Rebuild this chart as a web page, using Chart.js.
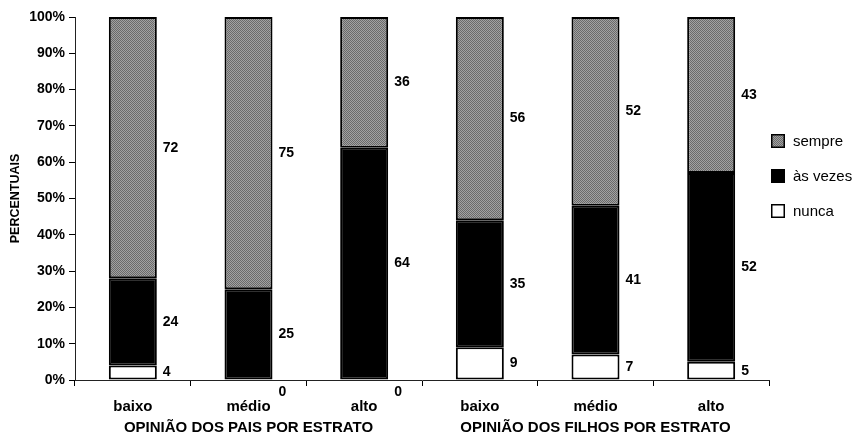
<!DOCTYPE html>
<html>
<head>
<meta charset="utf-8">
<script src="https://cdn.jsdelivr.net/npm/chart.js@4"></script>
<style>
  html, body { margin: 0; padding: 0; background: #fff; }
  #wrap { width: 856px; height: 437px; }
</style>
</head>
<body>
<div id="wrap"><canvas id="c" width="856" height="437"></canvas></div>
<script>
// Percentages per stratum: parents' opinion (first three) and children's opinion (last three)
const categories = ['baixo', 'médio', 'alto', 'baixo', 'médio', 'alto'];
const groups = ['OPINIÃO DOS PAIS POR ESTRATO', 'OPINIÃO DOS FILHOS POR ESTRATO'];
const nunca = [4, 0, 0, 9, 7, 5];
const asVezes = [24, 25, 64, 35, 41, 52];
const sempre = [72, 75, 36, 56, 52, 43];
const seriesNames = ['nunca', 'às vezes', 'sempre'];
const yTickValues = [0, 10, 20, 30, 40, 50, 60, 70, 80, 90, 100];

const FONT = '"Liberation Sans", Arial, sans-serif';

// Grey dithered fill for the "sempre" segments
function greyPattern() {
  const p = document.createElement('canvas');
  p.width = 2; p.height = 2;
  const g = p.getContext('2d');
  g.fillStyle = '#a2a2a2'; g.fillRect(0, 0, 2, 2);
  g.fillStyle = '#6a6a6a'; g.fillRect(0, 0, 1, 1); g.fillRect(1, 1, 1, 1);
  return g.createPattern(p, 'repeat');
}
const greyFill = greyPattern();

// Value written beside each segment, at the segment's middle height
const segmentLabels = {
  id: 'segmentLabels',
  afterDatasetsDraw(chart) {
    const ctx = chart.ctx;
    ctx.save();
    ctx.font = 'bold 14px ' + FONT;
    ctx.fillStyle = '#000';
    ctx.textAlign = 'left';
    ctx.textBaseline = 'middle';
    chart.data.datasets.forEach((ds, i) => {
      chart.getDatasetMeta(i).data.forEach((bar, j) => {
        const v = ds.data[j];
        const x = bar.x + bar.width / 2 + 6;
        let y = (bar.y + bar.base) / 2;
        if (v === 0) y = bar.base + 12;
        ctx.fillText(String(v), x, y);
      });
    });
    ctx.restore();
  }
};

// Legend box on the right, top entry first
const sideLegend = {
  id: 'sideLegend',
  afterDraw(chart) {
    const ctx = chart.ctx;
    const ds = chart.data.datasets;
    const x0 = chart.chartArea.right + 2;
    const rows = [141, 176, 211];
    ctx.save();
    ctx.font = '15px ' + FONT;
    ctx.textBaseline = 'middle';
    ctx.textAlign = 'left';
    [2, 1, 0].forEach((k, r) => {
      const y = rows[r];
      ctx.fillStyle = ds[k].backgroundColor;
      ctx.fillRect(x0, y - 7, 14, 14);
      ctx.strokeStyle = '#000';
      ctx.lineWidth = 1.5;
      ctx.strokeRect(x0 + 0.75, y - 6.25, 12.5, 12.5);
      ctx.fillStyle = '#000';
      ctx.fillText(ds[k].label, x0 + 22, y + 1);
    });
    ctx.restore();
  }
};

const barCommon = {
  borderColor: '#000',
  borderWidth: 2,
  borderSkipped: false,
  categoryPercentage: 1,
  barPercentage: 0.415
};

new Chart(document.getElementById('c'), {
  type: 'bar',
  data: {
    labels: categories,
    datasets: [
      Object.assign({ label: seriesNames[0], data: nunca, backgroundColor: '#ffffff' }, barCommon),
      Object.assign({ label: seriesNames[1], data: asVezes, backgroundColor: '#000000' }, barCommon),
      Object.assign({ label: seriesNames[2], data: sempre, backgroundColor: greyFill }, barCommon)
    ]
  },
  options: {
    responsive: false,
    animation: false,
    layout: { padding: { left: 0, right: 87, top: 17, bottom: 0 } },
    plugins: { legend: { display: false }, tooltip: { enabled: false } },
    scales: {
      x: {
        stacked: true,
        position: 'bottom',
        afterFit(scale) { scale.height = 32; },
        grid: { display: true, offset: true, drawOnChartArea: false, tickLength: 6, color: '#000', lineWidth: 1 },
        border: { display: true, color: '#222', width: 1, dash: [2, 1] },
        ticks: { color: '#000', font: { family: FONT, size: 15, weight: 'bold' }, padding: 12, maxRotation: 0 }
      },
      x2: {
        type: 'category',
        labels: groups,
        position: 'bottom',
        offset: true,
        afterFit(scale) { scale.height = 25; },
        grid: { display: false, drawTicks: false },
        border: { display: false },
        ticks: { color: '#000', font: { family: FONT, size: 15, weight: 'bold' }, padding: 7, maxRotation: 0 }
      },
      y: {
        stacked: true,
        min: 0,
        max: 100,
        afterBuildTicks(scale) { scale.ticks = yTickValues.map(v => ({ value: v })); },
        afterFit(scale) { scale.width = 75; },
        grid: { display: true, drawOnChartArea: false, tickLength: 6, color: '#000', lineWidth: 1 },
        border: { display: true, color: '#222', width: 1, dash: [2, 1] },
        ticks: {
          color: '#000',
          font: { family: FONT, size: 14, weight: 'bold' },
          padding: 4,
          callback: v => v + '%'
        },
        title: {
          display: true,
          text: 'PERCENTUAIS',
          color: '#000',
          font: { family: FONT, size: 12.5, weight: 'bold' },
          padding: { top: 8, bottom: 0 }
        }
      }
    }
  },
  plugins: [segmentLabels, sideLegend]
});
</script>
</body>
</html>
